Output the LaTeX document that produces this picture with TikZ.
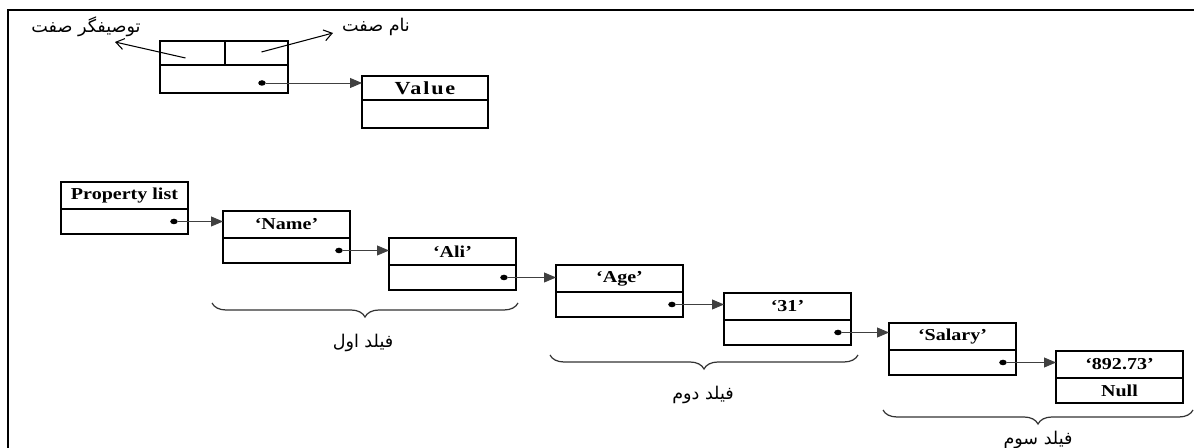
\documentclass[tikz,border=0pt]{standalone}
\usepackage{fontspec}
\setmainfont{Liberation Serif}[FakeStretch=1.2]
\newfontfamily\farsi[Script=Arabic]{DejaVu Sans}
\TeXXeTstate=1
\usetikzlibrary{positioning,arrows.meta,calc,decorations.pathreplacing,shapes.geometric}

\begin{document}
\begin{tikzpicture}[
  x=0.02cm, y=-0.02cm,
  cell/.style={draw, line width=0.8pt, outer sep=0pt, inner sep=0pt, minimum width=2.54cm, minimum height=0.54cm, font=\fontsize{9.5}{10}\selectfont\bfseries},
  low/.style={cell, minimum height=0.5cm},
  dot/.style={ellipse, fill, inner sep=0pt, minimum width=1.5mm, minimum height=1.1mm},
  arr/.style={-{Triangle[length=2.4mm, width=2mm]}, line width=0.5pt, black!75},
  parr/.style={-{Straight Barb[length=1.6mm, width=2.2mm]}, line width=0.6pt},
  lbl/.style={font=\farsi\fontsize{10}{11}\selectfont},
  brc/.style={decorate, decoration={brace, mirror, amplitude=2.8mm}, line width=0.7pt, black!80}
]
\useasboundingbox (0,0) rectangle (1194,448);
\draw[line width=1.2pt] (1194,10) -- (8,10) -- (8,448);

% attribute layout
\node[cell, minimum width=1.3cm, minimum height=0.48cm, anchor=north west] (ds_l) at (160,41) {};
\node[cell, minimum width=1.26cm, minimum height=0.48cm, right=0pt of ds_l] (ds_r) {};
\node[cell, minimum width=2.56cm, minimum height=0.56cm, anchor=north west] (ds_b) at (ds_l.south west) {};
\node[dot] (ds_d) at ($(ds_b.east)+(-26,4)$) {};
\node[cell, minimum width=2.52cm, minimum height=0.48cm, anchor=north west, font=\fontsize{10.5}{11}\selectfont\bfseries\addfontfeature{LetterSpace=10}] (val_t) at (362,76) {Value};
\node[cell, minimum width=2.52cm, minimum height=0.56cm, below=0pt of val_t] (val_b) {};
\draw[arr] (ds_d) -- (ds_d -| val_t.west);

\node[lbl] (desc) at (86,27) {\beginR توصیفگر صفت\endR};
\node[lbl] (aname) at (376,27) {\beginR نام صفت\endR};
\coordinate (desc_tip) at (115,42);
\coordinate (aname_tip) at (333,33);
\draw[parr] ($(ds_l.center)+(-7,5)$) -- (desc_tip);
\draw[parr] ($(ds_r.center)+(5,-1)$) -- (aname_tip);

% property list
\node[cell, anchor=north west] (pl_t) at (61,182) {Property list};
\node[low, below=0pt of pl_t] (pl_b) {};
\node[cell, anchor=north west] (nm_t) at (223,211) {`Name'};
\node[low, below=0pt of nm_t] (nm_b) {};
\node[cell, anchor=north west] (ali_t) at (389,238) {`Ali'};
\node[low, below=0pt of ali_t] (ali_b) {};
\node[cell, anchor=north west] (age_t) at (556,265) {`Age'};
\node[low, below=0pt of age_t] (age_b) {};
\node[cell, anchor=north west] (yr_t) at (724,293) {`31'};
\node[low, below=0pt of yr_t] (yr_b) {};
\node[cell, anchor=north west] (sal_t) at (889,323) {`Salary'};
\node[low, below=0pt of sal_t] (sal_b) {};
\node[cell, anchor=north west] (amt_t) at (1056,351) {`892.73'};
\node[low, below=0pt of amt_t] (amt_b) {Null};

\node[dot] (pl_d) at ($(pl_b.east)+(-14,0)$) {};
\node[dot] (nm_d) at ($(nm_b.east)+(-11,0)$) {};
\node[dot] (ali_d) at ($(ali_b.east)+(-12,0)$) {};
\node[dot] (age_d) at ($(age_b.east)+(-11,0)$) {};
\node[dot] (yr_d) at ($(yr_b.east)+(-13,0)$) {};
\node[dot] (sal_d) at ($(sal_b.east)+(-13,0)$) {};

\draw[arr] (pl_d) -- (pl_d -| nm_t.west);
\draw[arr] (nm_d) -- (nm_d -| ali_t.west);
\draw[arr] (ali_d) -- (ali_d -| age_t.west);
\draw[arr] (age_d) -- (age_d -| yr_t.west);
\draw[arr] (yr_d) -- (yr_d -| sal_t.west);
\draw[arr] (sal_d) -- (sal_d -| amt_t.west);

% fields
\draw[brc] (212,303) -- (518,303);
\node[lbl] (f1) at (363,343) {\beginR فیلد اول\endR};
\draw[brc] (550,355) -- (858,355);
\node[lbl] (f2) at (703,395) {\beginR فیلد دوم\endR};
\draw[brc] (883,410) -- (1193,410);
\node[lbl] (f3) at (1038,440) {\beginR فیلد سوم\endR};
\end{tikzpicture}
\end{document}
